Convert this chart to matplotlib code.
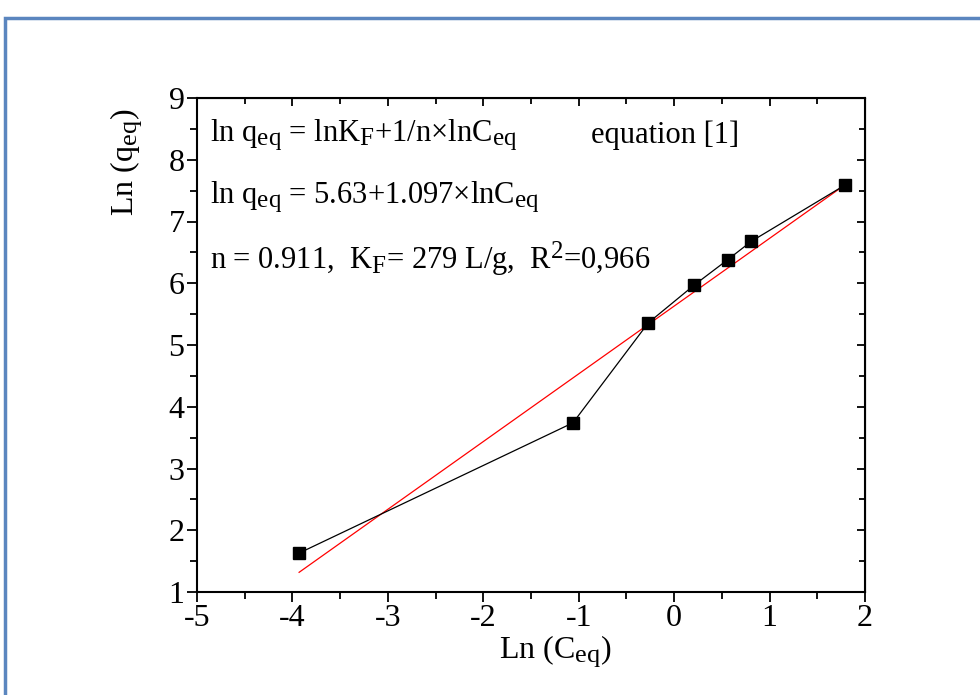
import numpy as np
import matplotlib
import matplotlib.pyplot as plt
from matplotlib.patches import Rectangle
import matplotlib._mathtext as mtext

plt.rcParams['font.family'] = ['Liberation Serif', 'DejaVu Serif']
plt.rcParams['mathtext.fontset'] = 'custom'
plt.rcParams['mathtext.rm'] = 'Liberation Serif'
plt.rcParams['mathtext.it'] = 'Liberation Serif:italic'
plt.rcParams['axes.unicode_minus'] = False
# subscripts in the original are nearly full size
mtext.SHRINK_FACTOR = 0.82

# data
ln_c = [-3.93, -1.06, -0.27, 0.21, 0.56, 0.81, 1.79]
ln_q = [1.63, 3.74, 5.36, 5.97, 6.38, 6.68, 7.59]
fit_a = 5.63
fit_b = 1.097
x_ticks = [-5, -4, -3, -2, -1, 0, 1, 2]
y_ticks = [1, 2, 3, 4, 5, 6, 7, 8, 9]

fig = plt.figure(figsize=(9.8, 6.95), dpi=100)
ax = fig.add_axes([197 / 980, 1 - 592 / 695, (865 - 197) / 980, (592 - 98) / 695])

# blue frame around the figure, cut off at right and bottom
fig.patches.append(Rectangle((5 / 980, -0.1), 1.2, 1 - 18 / 695 + 0.1,
                             transform=fig.transFigure, fill=False,
                             edgecolor='#5b86bf', linewidth=2.5))

ax.plot(ln_c, ln_q, color='black', linewidth=0.9, marker='s',
        markersize=8.5, markerfacecolor='black', zorder=3)
xf = np.array([ln_c[0], ln_c[-1]])
ax.plot(xf, fit_a + fit_b * xf, color='red', linewidth=0.9, zorder=2)

ax.set_xlim(-5, 2)
ax.set_ylim(1, 9)
ax.set_xticks(x_ticks)
ax.set_yticks(y_ticks)
ax.set_xticks(np.arange(-4.5, 2, 1), minor=True)
ax.set_yticks(np.arange(1.5, 9, 1), minor=True)
for sp in ax.spines.values():
    sp.set_linewidth(1.5)
ax.tick_params(which='both', direction='out', labelsize=23, width=1.3, pad=2)
ax.tick_params(which='major', length=7)
ax.tick_params(which='minor', length=5)

# mirrored ticks on top and right pointing inward
axt = ax.secondary_xaxis('top')
axt.set_xticks(x_ticks)
axt.set_xticks(np.arange(-4.5, 2, 1), minor=True)
axt.tick_params(which='both', direction='in', labeltop=False, width=1.3)
axt.tick_params(which='major', length=6)
axt.tick_params(which='minor', length=4)
axr = ax.secondary_yaxis('right')
axr.set_yticks(y_ticks)
axr.set_yticks(np.arange(1.5, 9, 1), minor=True)
axr.tick_params(which='both', direction='in', labelright=False, width=1.3)
axr.tick_params(which='major', length=6)
axr.tick_params(which='minor', length=4)

ax.set_xlabel(r'Ln (C$_{\mathrm{eq}}$)', fontsize=23)
ax.xaxis.set_label_coords(0.536, -0.083)
ax.xaxis.label.set_va('top')
ax.set_ylabel(r'Ln (q$_{\mathrm{eq}}$)', fontsize=23)
ax.yaxis.set_label_coords(-0.08, 0.87)

ax.text(0.02, 0.925, r'ln q$_{\mathrm{eq}}$ = lnK$_{\mathrm{F}}$+1/n$\times$lnC$_{\mathrm{eq}}$',
        transform=ax.transAxes, fontsize=22, va='center')
ax.text(0.59, 0.925, 'equation [1]', transform=ax.transAxes, fontsize=22, va='center')
ax.text(0.02, 0.80, r'ln q$_{\mathrm{eq}}$ = 5.63+1.097$\times$lnC$_{\mathrm{eq}}$',
        transform=ax.transAxes, fontsize=22, va='center')
ax.text(0.02, 0.675, r'n = 0.911,  K$_{\mathrm{F}}$= 279 L/g,  R$^{2}$=0,966',
        transform=ax.transAxes, fontsize=22, va='center')

fig.savefig('out.png', dpi=100)
